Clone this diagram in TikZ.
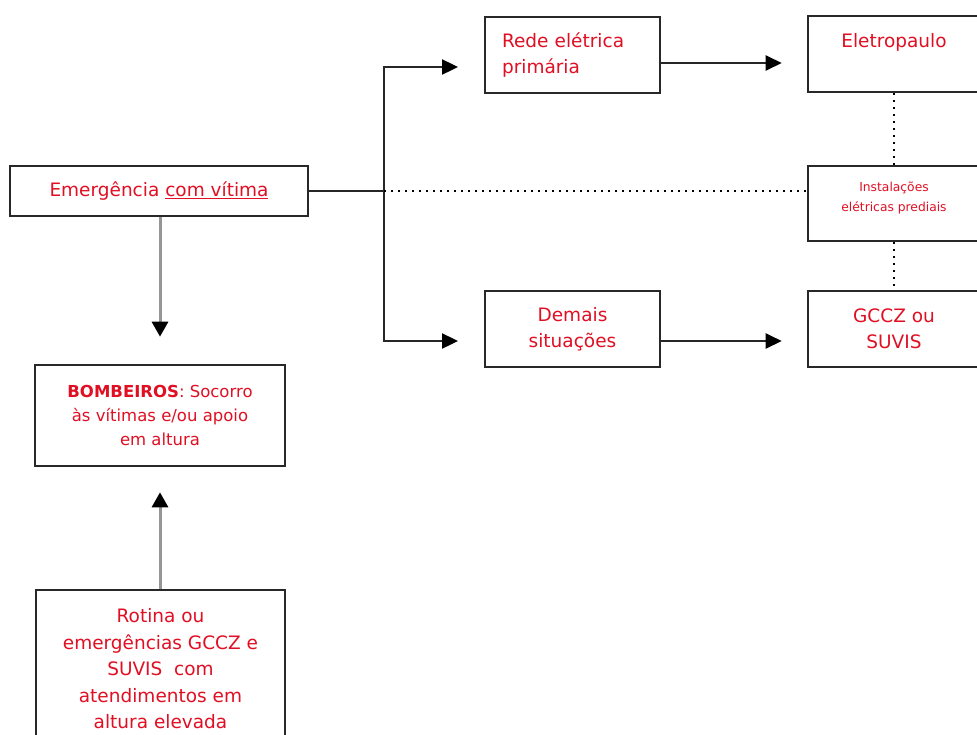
\documentclass[tikz,border=0pt]{standalone}
\usepackage{fontspec}
\setmainfont{DejaVu Sans}
\usetikzlibrary{arrows.meta}
\definecolor{txtred}{RGB}{225,15,35}
\definecolor{boxline}{RGB}{40,40,40}
\definecolor{grayline}{RGB}{150,150,150}
\begin{document}
\begin{tikzpicture}[x=1pt,y=-1pt,
  box/.style={draw=boxline, line width=2.6pt, fill=white, inner sep=0pt, text=txtred, align=center,
    font=\fontsize{18.5}{26.5}\selectfont},
  arr/.style={draw=black!85, line width=2.4pt, -{Triangle[length=16pt,width=15pt,color=black]}},
  grayarr/.style={draw=grayline, line width=3pt, -{Triangle[length=15pt,width=16pt,color=black]}},
  plain/.style={draw=black!85, line width=2.4pt},
  dotline/.style={draw=black, line width=2.4pt, dash pattern=on 2pt off 5pt}]
\useasboundingbox (0,0) rectangle (977,734);
\clip (0,0) rectangle (977,734);
\fill[white] (0,0) rectangle (977,734);

% boxes
\node[box, minimum width=298pt, minimum height=50pt] (emerg) at (159,191) {Emergência \underline{com vítima}};
\node[box, minimum width=175pt, minimum height=76pt, text width=141pt, align=left] (rede) at (572.5,55) {Rede elétrica\\primária};
\node[box, minimum width=172pt, minimum height=76pt] (eletro) at (894,54) {Eletropaulo\\\mbox{}};
\node[box, minimum width=172pt, minimum height=75pt] (inst) at (894,203.5) {};
\node[text=txtred, align=center, font=\fontsize{12.3}{20.5}\selectfont] (instlabel) at (894,198) {Instalações\\elétricas prediais};
\node[box, minimum width=175pt, minimum height=76pt] (demais) at (572.5,329) {Demais\\situações};
\node[box, minimum width=172pt, minimum height=76pt] (gccz) at (894,329) {GCCZ ou\\SUVIS};
\node[box, minimum width=250pt, minimum height=101pt, font=\fontsize{16.5}{24}\selectfont] (bomb) at (160,415.5) {\textbf{BOMBEIROS}: Socorro\\às vítimas e/ou apoio\\em altura};
\node[box, minimum width=249pt, minimum height=158pt] (rot) at (160.5,669) {Rotina ou\\emergências GCCZ e\\SUVIS\ \ com\\atendimentos em\\altura elevada};

% branch coordinates
\coordinate (br) at (384,191);
\coordinate (a1) at (458,67);
\coordinate (a2) at (458,341);

% connectors
\draw[plain] (emerg.east) -- (br);
\draw[arr] (br) |- (a1);
\draw[arr] (br) |- (a2);
\draw[arr, shorten >=25pt] ([yshift=-8pt]rede.east) -- ([yshift=-8pt]rede.east -| eletro.west);
\draw[arr, shorten >=25pt] ([yshift=-12pt]demais.east) -- ([yshift=-12pt]demais.east -| gccz.west);
\draw[dotline] (br) -- (br -| inst.west);
\draw[dotline] (eletro.south) -- (inst.north);
\draw[dotline] (inst.south) -- (gccz.north);
\draw[grayarr, shorten >=27pt] (bomb.north |- emerg.south) -- (bomb.north);
\draw[grayarr, shorten >=25pt] (bomb.south |- rot.north) -- (bomb.south);
\end{tikzpicture}
\end{document}
